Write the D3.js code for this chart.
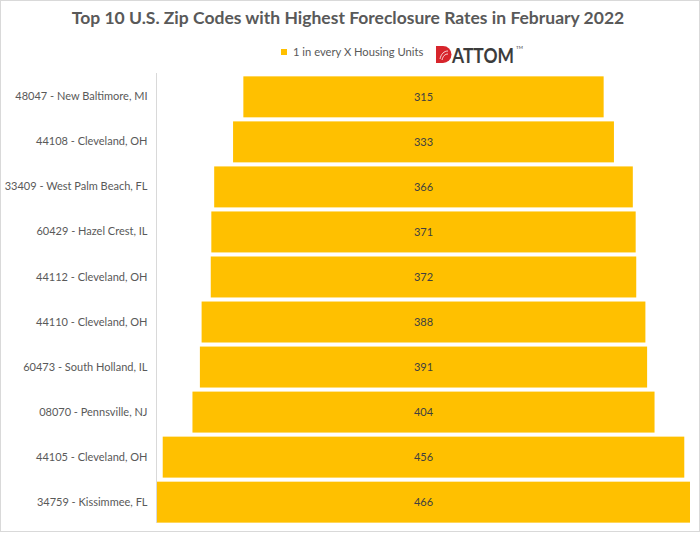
<!DOCTYPE html>
<html>
<head>
<meta charset="utf-8">
<script src="https://cdn.jsdelivr.net/npm/d3@7"></script>
<style>
  body { margin: 0; background: #fff; }
  text { font-family: Lato, "Open Sans", sans-serif; }
</style>
</head>
<body>
<div id="chart"></div>
<script>
const zipCodes = [
  "48047 - New Baltimore, MI",
  "44108 - Cleveland, OH",
  "33409 - West Palm Beach, FL",
  "60429 - Hazel Crest, IL",
  "44112 - Cleveland, OH",
  "44110 - Cleveland, OH",
  "60473 - South Holland, IL",
  "08070 - Pennsville, NJ",
  "44105 - Cleveland, OH",
  "34759 - Kissimmee, FL"
];
const housingUnits = [315, 333, 366, 371, 372, 388, 391, 404, 456, 466];
const seriesName = "1 in every X Housing Units";
const chartTitle = "Top 10 U.S. Zip Codes with Highest Foreclosure Rates in February 2022";

const width = 700,
  height = 533,
  margin = ({ top: 75, right: 10, bottom: 9, left: 157 });

const data = zipCodes.map((z, i) => ({ zip: z, value: housingUnits[i] }));

const svg = d3.select("#chart")
  .append("svg")
  .attr("width", width)
  .attr("height", height);

// outer frame
svg.append("rect")
  .attr("x", 0.5).attr("y", 0.5)
  .attr("width", width - 1).attr("height", height - 2)
  .attr("fill", "#fff")
  .attr("stroke", "#d9d9d9");

let y = d3.scaleBand()
  .domain(zipCodes)
  .range([margin.top, height - margin.bottom])
  .paddingInner(0.09)
  .paddingOuter(0.03);

// bar widths scale with value, bars are centred (funnel)
let w = d3.scaleLinear()
  .domain([0, d3.max(housingUnits)])
  .range([0, width - margin.right - margin.left]);

const cx = margin.left + w(d3.max(housingUnits)) / 2;

svg.selectAll("rect.bar")
  .data(data)
  .join("rect")
  .attr("class", "bar")
  .attr("x", d => cx - w(d.value) / 2)
  .attr("y", d => y(d.zip))
  .attr("width", d => w(d.value))
  .attr("height", y.bandwidth())
  .attr("fill", "#ffc000");

svg.selectAll("text.val")
  .data(data)
  .join("text")
  .attr("class", "val")
  .attr("x", cx)
  .attr("y", d => y(d.zip) + y.bandwidth() / 2)
  .attr("dy", "0.35em")
  .attr("text-anchor", "middle")
  .attr("font-size", 11)
  .attr("fill", "#404040")
  .text(d => d.value);

// category axis
const yAxis = svg.append("g")
  .attr("transform", `translate(${margin.left - 0.5},0)`)
  .call(d3.axisLeft(y).tickSize(0).tickPadding(9).tickSizeOuter(0));

yAxis.select(".domain")
  .attr("stroke", "#d9d9d9")
  .attr("d", `M0,${margin.top - 2}V${height - margin.bottom - 1}`);

yAxis.selectAll(".tick text")
  .attr("font-family", "Lato, sans-serif")
  .attr("font-size", 11)
  .attr("fill", "#595959");

// title
svg.append("text")
  .attr("x", 348)
  .attr("y", 24)
  .attr("text-anchor", "middle")
  .attr("font-size", 17.5)
  .attr("font-weight", "bold")
  .attr("fill", "#595959")
  .text(chartTitle);

// legend
const legend = svg.append("g").attr("transform", "translate(281,49)");
legend.append("rect")
  .attr("width", 6).attr("height", 6)
  .attr("fill", "#ffc000");
legend.append("text")
  .attr("x", 12)
  .attr("y", 6.5)
  .attr("font-size", 11.2)
  .attr("fill", "#595959")
  .text(seriesName);

// ATTOM logo
const logo = svg.append("g").attr("transform", "translate(436,46)");
logo.append("path")
  .attr("d", "M0,0 H7 A8.5,8.5 0 0 1 7,17 H0 Z")
  .attr("fill", "#d7252c");
logo.append("path")
  .attr("d", "M4,13 C5,8 8,5 12,5 M6,14 C7,10 9,8 12,8")
  .attr("fill", "none")
  .attr("stroke", "#fff")
  .attr("stroke-width", 0.8);
const brand = logo.append("text")
  .attr("font-family", "'Open Sans', sans-serif")
  .attr("font-size", 21)
  .attr("font-weight", "bold")
  .attr("fill", "#3c3c3c")
  .text("ATTOM");
const brandW = 62;
const sx = brandW / brand.node().getComputedTextLength();
brand.attr("transform", `translate(16,16.5) scale(${sx},1)`);
logo.append("text")
  .attr("x", 16 + brandW + 2)
  .attr("y", 3)
  .attr("font-size", 4.5)
  .attr("fill", "#3c3c3c")
  .text("TM");
</script>
</body>
</html>
